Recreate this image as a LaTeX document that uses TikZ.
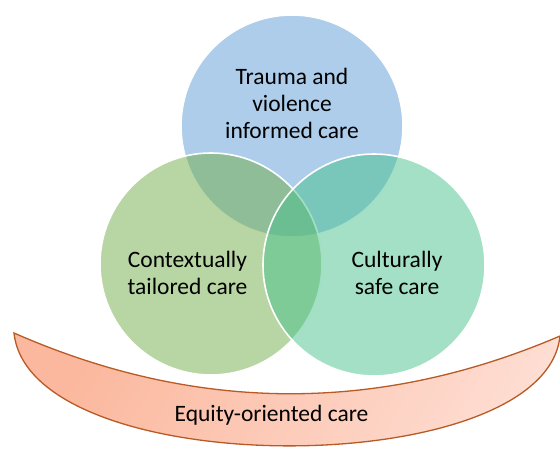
\documentclass[tikz,border=0pt]{standalone}
\usepackage{fontspec}
\setmainfont{Carlito}
\definecolor{cblue}{HTML}{5B9BD5}
\definecolor{cgreen}{HTML}{70AD47}
\definecolor{cteal}{HTML}{47C18D}
\definecolor{arcdark}{HTML}{FBB89E}
\definecolor{arclight}{HTML}{FEDDD2}
\definecolor{arcline}{HTML}{B85A24}
\begin{document}
\begin{tikzpicture}[x=1pt,y=-1pt,
  ring/.style={circle, minimum size=222pt, inner sep=0pt, fill opacity=0.5,
    text opacity=1, draw=white, draw opacity=1, line width=1.6pt},
  label/.style={align=center, font=\fontsize{23.5}{27}\selectfont}]
\useasboundingbox (0,0) rectangle (560,449);

% crescent band along the bottom
\shadedraw[left color=arcdark, right color=arclight, shading angle=60,
  draw=arcline, line width=1.3pt, line join=miter]
  (14,333) .. controls (196,413) and (378,414) .. (560,336)
  .. controls (545,483) and (30,483) .. cycle;
\node[label] (equity) at (271.5,415) {Equity-oriented care};

% three overlapping circles
\node[ring, fill=cblue] (trauma) at (292,126) {};
\node[ring, fill=cgreen] (context) at (211,264) {};
\node[ring, fill=cteal] (culture) at (374,265) {};

\node[label] (traumatext) at (292,103) {Trauma and\\violence\\informed care};
\node[label] (contexttext) at (187.5,272.5) {Contextually\\tailored care};
\node[label] (culturetext) at (397,272.5) {Culturally\\safe care};
\end{tikzpicture}
\end{document}
